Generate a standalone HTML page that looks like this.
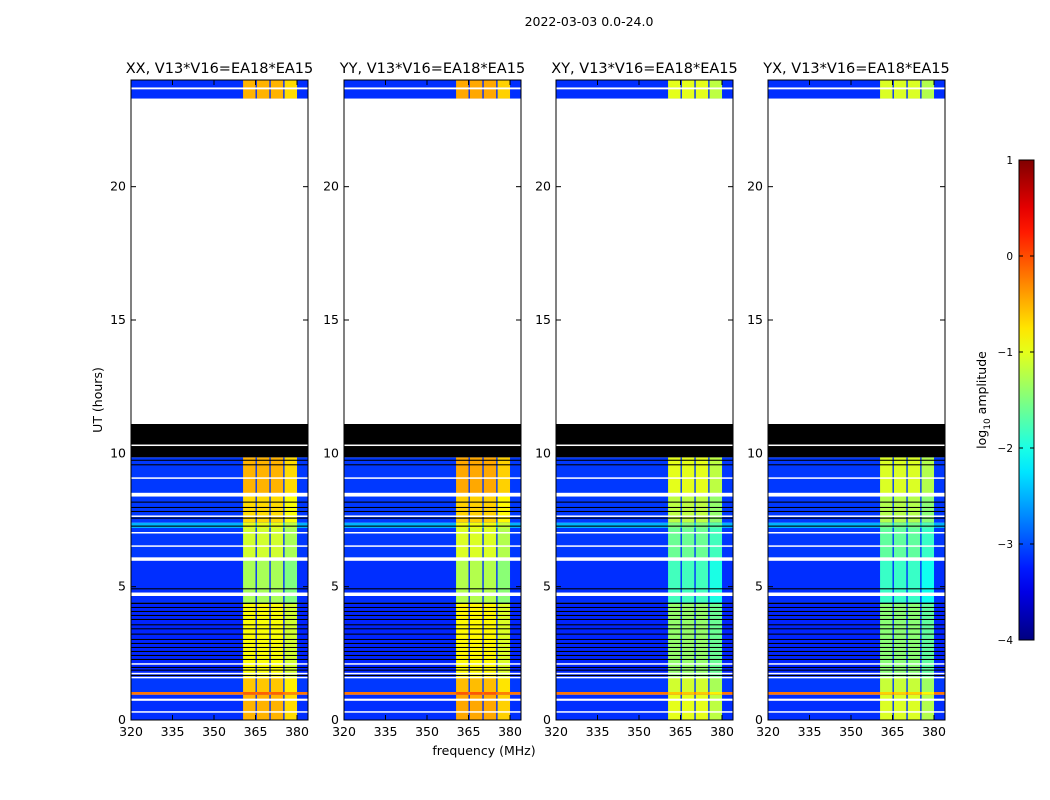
<!DOCTYPE html>
<html><head><meta charset="utf-8"><style>
body{margin:0;background:#fff;}
svg{display:block;font-family:"DejaVu Sans","Liberation Sans",sans-serif;}
</style></head><body>
<svg id="chart" width="1050" height="800" viewBox="0 0 1050 800"></svg>
<script>
const panelTitles=["XX, V13*V16=EA18*EA15","YY, V13*V16=EA18*EA15","XY, V13*V16=EA18*EA15","YX, V13*V16=EA18*EA15"];
const panelOffset=[0,0.05,-0.5,-0.55];
const bgLevel=-3.15;
const subBandStart=[360.5,365.5,370.5,375.5];
const subBandEnd=[365.0,370.0,375.0,380.0];
const segStart=[23.3,0,0.95,1.05,1.6,4.4,6.0,7.2,7.4,8.4];
const segEnd=[24,0.95,1.05,1.6,4.4,6.0,7.2,7.4,8.4,9.85];
const segBand=[-0.5,-0.5,-0.1,-0.6,-0.9,-1.3,-1.1,-1.0,-0.7,-0.5];
const segBg=[-3.15,-3.15,-0.2,-3.1,-3.2,-3.15,-3.1,-2.5,-3.1,-3.1];
const blackStart=[9.85,1.65,1.85,1.95,2.25,2.4,2.55,2.7,2.85,3.0,3.2,3.4,3.55,3.75,3.9,4.05,4.2,4.35,7.25,7.55,7.8,7.95,8.15,9.55,9.72,4.9];
const blackEnd=[11.1,1.69,1.89,1.99,2.29,2.44,2.59,2.74,2.89,3.04,3.24,3.44,3.59,3.79,3.94,4.09,4.24,4.4,7.29,7.59,7.84,7.99,8.19,9.59,9.76,4.94];
const whiteStart=[11.1,23.65,10.28,9.05,8.38,7.62,7.0,6.5,5.97,4.65,2.08,1.73,1.58,0.72,0.28];
const whiteEnd=[23.3,23.72,10.33,9.1,8.52,7.67,7.05,6.55,6.1,4.78,2.13,1.77,1.62,0.8,0.33];
const xTicks=[320,335,350,365,380];
const yTicks=[0,5,10,15,20];
const cbTicks=[1,0,-1,-2,-3,-4];
const cbLabels=["1","0","\u22121","\u22122","\u22123","\u22124"];

const svg=document.getElementById('chart');
const NS="http://www.w3.org/2000/svg";
function mk(tag,attrs,parent){const e=document.createElementNS(NS,tag);for(const k in attrs)e.setAttribute(k,attrs[k]);(parent||svg).appendChild(e);return e;}
function clamp(v){return Math.max(0,Math.min(1,v));}
function jet(v){const t=clamp((v+4)/5);const r=clamp(1.5-Math.abs(4*t-3)),g=clamp(1.5-Math.abs(4*t-2)),b=clamp(1.5-Math.abs(4*t-1));return `rgb(${Math.round(r*255)},${Math.round(g*255)},${Math.round(b*255)})`;}
const panelX=[131,344,556,768],PW=177,PT=80,PB=720;
const fMin=320,fMax=320+177/2.767;
function yScale(h){return PB-(h/24)*(PB-PT);}
function xScale(p,f){return panelX[p]+(f-fMin)/(fMax-fMin)*PW;}

let t=mk('text',{x:589,y:26,'text-anchor':'middle','font-size':12.5});t.textContent="2022-03-03 0.0-24.0";


for(let p=0;p<4;p++){
  const g=mk('g',{});
  
  
  for(let i=0;i<segStart.length;i++){
    const y0=yScale(segEnd[i]),y1=yScale(segStart[i]);
    const r=mk('rect',{x:panelX[p],y:y0,width:PW,height:y1-y0,fill:jet(segBg[i])},g);
    
    
    for(let b=0;b<subBandStart.length;b++){
      const xa=xScale(p,subBandStart[b]),xb=xScale(p,subBandEnd[b]);
      const c=mk('rect',{x:xa,y:y0,width:xb-xa,height:y1-y0,fill:jet(segBand[i]+panelOffset[p]-(b===3?0.2:0))},g);
      
      
    }
  }
  for(let i=0;i<blackStart.length;i++){
    const y0=yScale(blackEnd[i]),y1=yScale(blackStart[i]);
    const r=mk('rect',{x:panelX[p],y:y0,width:PW,height:Math.max(1,y1-y0),fill:'#000'},g);
    
    
  }
  for(let i=0;i<whiteStart.length;i++){
    const y0=yScale(whiteEnd[i]),y1=yScale(whiteStart[i]);
    const r=mk('rect',{x:panelX[p],y:y0,width:PW,height:Math.max(1.5,y1-y0),fill:'#fff'},g);
    
    
  }
  const fr=mk('rect',{x:panelX[p],y:PT,width:PW,height:PB-PT,fill:'none',stroke:'#000','stroke-width':1},g);
  
  const tt=mk('text',{x:panelX[p]+PW/2,y:73,'text-anchor':'middle','font-size':14.5},g);tt.textContent=panelTitles[p];
  
  xTicks.forEach(v=>{const x=xScale(p,v);
    mk('line',{x1:x,x2:x,y1:PB,y2:PB-5,stroke:'#000'},g);mk('line',{x1:x,x2:x,y1:PT,y2:PT+5,stroke:'#000'},g);
    const l=mk('text',{x:x,y:PB+16,'text-anchor':'middle','font-size':12.5},g);l.textContent=v;
    });
  yTicks.forEach(v=>{const y=yScale(v);
    mk('line',{x1:panelX[p],x2:panelX[p]+5,y1:y,y2:y,stroke:'#000'},g);mk('line',{x1:panelX[p]+PW,x2:panelX[p]+PW-5,y1:y,y2:y,stroke:'#000'},g);
    const l=mk('text',{x:panelX[p]-5,y:y+4,'text-anchor':'end','font-size':12.5},g);l.textContent=v;
    });
}
t=mk('text',{x:484,y:755,'text-anchor':'middle','font-size':12.5});t.textContent="frequency (MHz)";

t=mk('text',{x:102,y:400,'text-anchor':'middle','font-size':12.5,transform:'rotate(-90 102 400)'});t.textContent="UT (hours)";


const defs=mk('defs',{});const lg=mk('linearGradient',{id:'cbg',x1:0,y1:1,x2:0,y2:0},defs);
for(let i=0;i<=20;i++){const v=-4+5*i/20;mk('stop',{offset:i/20,'stop-color':jet(v)},lg);}
const cb=mk('rect',{x:1019,y:160,width:15,height:480,fill:'url(#cbg)',stroke:'#000','stroke-width':1});

cbTicks.forEach((v,i)=>{const y=640-(v+4)/5*480;
  mk('line',{x1:1019,x2:1023,y1:y,y2:y,stroke:'#000'});mk('line',{x1:1034,x2:1030,y1:y,y2:y,stroke:'#000'});
  const l=mk('text',{x:1013,y:y+4,'text-anchor':'end','font-size':10.5});l.textContent=cbLabels[i];
  });
t=mk('text',{x:986,y:400,'text-anchor':'middle','font-size':12.5,transform:'rotate(-90 986 400)'});
t.innerHTML='log<tspan font-size="9" dy="4">10</tspan><tspan dy="-4"> amplitude</tspan>';

</script>
</body></html>
